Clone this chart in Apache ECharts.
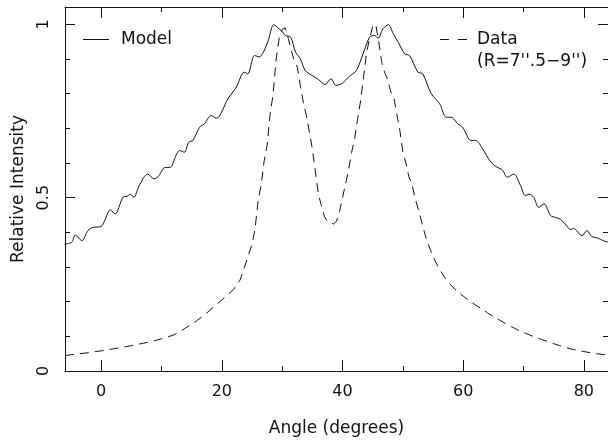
<!DOCTYPE html>
<html>
<head>
<meta charset="utf-8">
<script src="https://cdn.jsdelivr.net/npm/echarts@6/dist/echarts.min.js"></script>
<style>
  html, body { margin: 0; padding: 0; background: #fff; }
  #chart { width: 608px; height: 443px; }
</style>
</head>
<body>
<div id="chart"></div>
<script>
// model curve (solid)
const modelAngle = [-6.1, -4.9, -4.3, -3.2, -2.2, -1.4, 0, 0.55, 1.5, 2.3, 3.6, 4.3, 4.8, 5.4, 6.3, 7.7, 8.8, 9.6, 10.4, 11.5,
  12.4, 13.0, 13.8, 14.5, 15.2, 16.3, 17.1, 18.2, 19.1, 21.0, 22.4, 23.7, 24.3, 25.4, 26.2, 27.6, 28.6, 29.5, 30.2, 30.5,
  31.4, 32.2, 33.0, 33.8, 34.9, 36.0, 37.1, 38.1, 38.9, 39.9, 41.0, 42.3, 43.4, 44.5, 45.3, 45.9, 46.7, 47.6, 48.4, 49.2,
  50.3, 51.1, 52.5, 53.3, 54.7, 56.1, 57.2, 58.0, 59.1, 59.9, 61.3, 62.1, 63.2, 64.6, 65.6, 66.5, 67.3, 68.4, 69.5, 70.3,
  70.9, 71.7, 72.5, 73.4, 74.5, 75.3, 76.1, 76.9, 77.8, 78.3, 79.7, 80.5, 81.3, 82.4, 83.2, 84];
const modelIntensity = [0.366, 0.371, 0.392, 0.376, 0.405, 0.414, 0.417, 0.433, 0.465, 0.453, 0.501, 0.504, 0.510, 0.501, 0.535, 0.568, 0.554, 0.564, 0.586, 0.588,
  0.622, 0.636, 0.631, 0.660, 0.665, 0.703, 0.713, 0.737, 0.729, 0.785, 0.819, 0.862, 0.857, 0.910, 0.906, 0.949, 0.999, 0.987, 0.975, 0.968,
  0.963, 0.920, 0.901, 0.867, 0.853, 0.841, 0.826, 0.843, 0.824, 0.829, 0.848, 0.867, 0.915, 0.963, 0.968, 0.960, 0.987, 0.999, 0.973, 0.949,
  0.915, 0.910, 0.862, 0.857, 0.800, 0.771, 0.732, 0.732, 0.713, 0.703, 0.665, 0.665, 0.641, 0.602, 0.588, 0.580, 0.559, 0.568, 0.535, 0.506,
  0.510, 0.501, 0.472, 0.482, 0.448, 0.443, 0.438, 0.424, 0.408, 0.411, 0.390, 0.405, 0.388, 0.383, 0.376, 0.372];

// observed data (dashed)
const dataAngle = [-6, -5, -4, -3, -2, -1, 0, 1, 2, 3, 4, 5, 6, 7, 8, 9, 10, 11, 12, 13, 14, 15, 16, 17, 18, 19, 20, 21, 22, 23,
  23.5, 24, 24.5, 25, 25.5, 26, 26.5, 27, 27.5, 28, 28.5, 29, 29.5, 30, 30.5, 31, 31.5, 32, 32.5, 33, 33.5, 34, 34.5, 35, 35.5,
  36, 36.5, 37, 37.5, 38, 38.5, 39, 39.5, 40, 40.5, 41, 41.5, 42, 42.5, 43, 43.5, 44, 44.5, 45, 45.5, 46, 46.5, 47, 47.5, 48,
  48.5, 49, 49.5, 50, 50.5, 51, 51.5, 52, 52.5, 53, 53.5, 54, 55, 56, 57, 58, 59, 60, 61, 62, 63, 64, 65, 66, 67, 68, 69, 70,
  71, 72, 73, 74, 75, 76, 77, 78, 79, 80, 81, 82, 83, 84];
const dataIntensity = [0.044, 0.047, 0.049, 0.051, 0.053, 0.056, 0.058, 0.061, 0.064, 0.067, 0.070, 0.073, 0.077, 0.080, 0.084, 0.088, 0.093, 0.098, 0.104, 0.113, 0.124, 0.135, 0.147, 0.160, 0.175, 0.190, 0.205, 0.220, 0.237, 0.262,
  0.286, 0.313, 0.340, 0.365, 0.410, 0.490, 0.535, 0.605, 0.650, 0.740, 0.800, 0.900, 0.960, 0.985, 0.990, 0.960, 0.925, 0.895, 0.877, 0.824, 0.775, 0.737, 0.690, 0.640, 0.575,
  0.510, 0.477, 0.445, 0.432, 0.428, 0.424, 0.432, 0.460, 0.500, 0.540, 0.580, 0.630, 0.670, 0.727, 0.780, 0.850, 0.920, 0.960, 0.995, 1.000, 0.950, 0.890, 0.860, 0.840, 0.805,
  0.790, 0.740, 0.694, 0.631, 0.600, 0.560, 0.540, 0.500, 0.470, 0.438, 0.405, 0.375, 0.330, 0.295, 0.268, 0.247, 0.230, 0.216, 0.203, 0.191, 0.180, 0.168, 0.157, 0.147, 0.137, 0.128, 0.119, 0.111,
  0.104, 0.097, 0.091, 0.085, 0.079, 0.073, 0.068, 0.063, 0.059, 0.056, 0.053, 0.050, 0.048, 0.046];

// ticks
const xMajorTicks = [0, 20, 40, 60, 80];
const xMinorTicks = [10, 30, 50, 70];
const yMajorTicks = [0, 0.5, 1];
const yMinorTicks = [0.1, 0.2, 0.3, 0.4, 0.6, 0.7, 0.8, 0.9];

const font = "DejaVu Sans";
const ink = "#111";

const chart = echarts.init(document.getElementById("chart"));

// one axis per tick set, so major and minor ticks can have different lengths
function xAx(pos, ticks, len, labels, line) {
  return {
    type: "value", position: pos, min: -6, max: 84, gridIndex: 0,
    axisLine: { show: line, onZero: false, lineStyle: { color: ink, width: 1 } },
    axisTick: { show: true, inside: true, length: len, customValues: ticks, lineStyle: { color: ink, width: 1 } },
    axisLabel: { show: labels, customValues: ticks, margin: 13, color: ink, fontFamily: font, fontSize: 16 },
    splitLine: { show: false },
  };
}
function yAx(pos, ticks, len, labels, line) {
  return {
    type: "value", position: pos, min: 0, max: 1.05, gridIndex: 0,
    axisLine: { show: line, onZero: false, lineStyle: { color: ink, width: 1 } },
    axisTick: { show: true, inside: true, length: len, customValues: ticks, lineStyle: { color: ink, width: 1 } },
    axisLabel: { show: labels, customValues: ticks, rotate: 90, margin: 13, color: ink, fontFamily: font, fontSize: 16 },
    splitLine: { show: false },
  };
}

const xAxes = [
  xAx("bottom", xMajorTicks, 11, true, true),
  xAx("bottom", xMinorTicks, 5, false, false),
  xAx("top", xMajorTicks, 11, false, true),
  xAx("top", xMinorTicks, 5, false, false),
];
xAxes[0].name = "Angle (degrees)";
xAxes[0].nameLocation = "middle";
xAxes[0].nameGap = 49;
xAxes[0].nameTextStyle = { color: ink, fontFamily: font, fontSize: 17 };

const yAxes = [
  yAx("left", yMajorTicks, 10, true, true),
  yAx("left", yMinorTicks, 5, false, false),
  yAx("right", yMajorTicks, 10, false, true),
  yAx("right", yMinorTicks, 5, false, false),
];
yAxes[0].name = "Relative Intensity";
yAxes[0].nameLocation = "middle";
yAxes[0].nameGap = 38;
yAxes[0].nameTextStyle = { color: ink, fontFamily: font, fontSize: 17 };

const legendText = { fill: ink, font: "17px 'DejaVu Sans'", verticalAlign: "middle" };

const option = {
  animation: false,
  backgroundColor: "#fff",
  grid: { left: 65, top: 7, width: 546, height: 364, containLabel: false },
  xAxis: xAxes,
  yAxis: yAxes,
  graphic: [
    { type: "line", shape: { x1: 83, y1: 39.5, x2: 109, y2: 39.5 }, style: { stroke: ink, lineWidth: 1 } },
    { type: "text", x: 121, y: 40, style: Object.assign({ text: "Model" }, legendText) },
    { type: "line", shape: { x1: 440, y1: 39.5, x2: 467, y2: 39.5 }, style: { stroke: ink, lineWidth: 1, lineDash: [9, 9] } },
    { type: "text", x: 477, y: 40, style: Object.assign({ text: "Data" }, legendText) },
    { type: "text", x: 477, y: 62, style: Object.assign({ text: "(R=7''.5\u22129'')" }, legendText) },
  ],
  series: [
    {
      name: "Model", type: "line", xAxisIndex: 0, yAxisIndex: 0,
      data: modelAngle.map((a, i) => [a, modelIntensity[i]]),
      showSymbol: false, symbol: "none", smooth: 0.3,
      lineStyle: { color: ink, width: 1 },
    },
    {
      name: "Data", type: "line", xAxisIndex: 0, yAxisIndex: 0,
      data: dataAngle.map((a, i) => [a, dataIntensity[i]]),
      showSymbol: false, symbol: "none",
      lineStyle: { color: ink, width: 1, type: [9, 6] },
    },
  ],
};
chart.setOption(option);
</script>
</body>
</html>
